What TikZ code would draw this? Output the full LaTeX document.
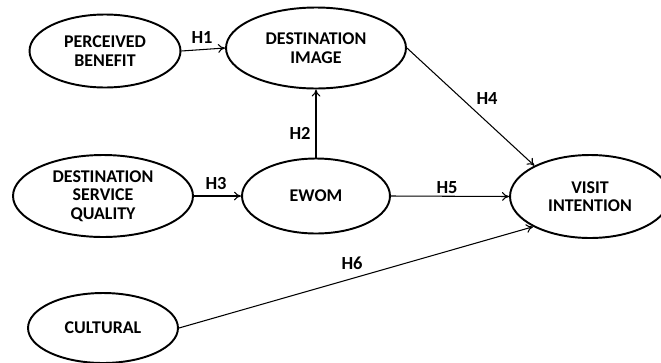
\documentclass[tikz,border=0pt]{standalone}
\usepackage{fontspec}
\setmainfont{Carlito}
\usetikzlibrary{arrows.meta,shapes.geometric}

\tikzset{
	construct/.style={draw, ellipse, line width=1.1pt, inner sep=0pt, align=center,
		font=\fontsize{10.2}{10.6}\selectfont\bfseries},
	link/.style={-{To[length=4pt,width=5pt]}, line width=0.6pt},
	hyp/.style={font=\fontsize{10.5}{11}\selectfont\bfseries}
}

\begin{document}
\begin{tikzpicture}[x=0.02cm, y=-0.02cm]
		%%%%% START %%%%%
		\useasboundingbox (0, 0) rectangle (661, 362);
		
		\node[construct, minimum width=3.02cm, minimum height=1.46cm] (benefit) at (105, 51) {PERCEIVED\\BENEFIT};
		\node[construct, minimum width=3.6cm, minimum height=1.62cm] (image) at (316, 48) {DESTINATION\\IMAGE};
		\node[construct, minimum width=3.6cm, minimum height=1.64cm] (quality) at (103, 196) {DESTINATION\\SERVICE\\QUALITY};
		\node[construct, minimum width=2.96cm, minimum height=1.5cm] (ewom) at (316, 196) {EWOM};
		\node[construct, minimum width=3.2cm, minimum height=1.66cm] (visit) at (590, 196.5) {VISIT\\INTENTION};
		\node[construct, minimum width=3.0cm, minimum height=1.4cm] (cultural) at (103, 328) {CULTURAL};
		
		\draw[link] (benefit.east) -- (image.west);
		\draw[link] (ewom.north) -- (image.south);
		\draw[link] (quality.east) -- (ewom.west);
		\draw[link] (image.east) -- (visit.151);
		\draw[link] (ewom.east) -- (visit.west);
		\draw[link] (cultural.east) -- (visit.208);
		
		\node[hyp] (h1) at (202, 38) {H1};
		\node[hyp] (h2) at (300, 133) {H2};
		\node[hyp] (h3) at (216, 184) {H3};
		\node[hyp] (h4) at (487, 99) {H4};
		\node[hyp] (h5) at (447, 188) {H5};
		\node[hyp] (h6) at (352, 263) {H6};
		%%%%% END %%%%%
\end{tikzpicture}
\end{document}
